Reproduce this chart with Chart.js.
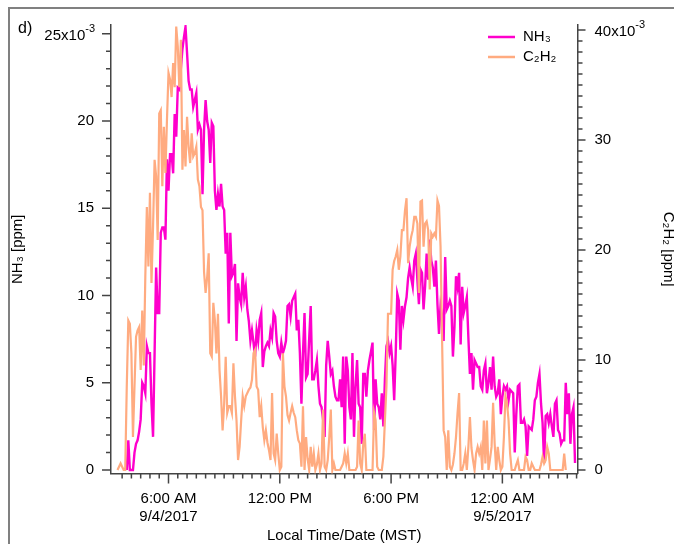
<!DOCTYPE html>
<html>
<head>
<meta charset="utf-8">
<title>NH3 / C2H2</title>
<script src="https://cdn.jsdelivr.net/npm/chart.js@4.4.0/dist/chart.umd.min.js"></script>
<style>
  html, body { margin: 0; padding: 0; background: #fff; overflow: hidden; }
  #frame { position: absolute; left: 8px; top: 7px; width: 700px; height: 600px;
           border-left: 2px solid #808080; border-top: 2px solid #808080; }
  #wrap { position: absolute; left: 0; top: 0; width: 674px; height: 544px; }
</style>
</head>
<body>
<div id="frame"></div>
<div id="wrap"><canvas id="chart"></canvas></div>
<script>
// minutes after midnight 9/4/2017 (MST), 5 min apart
const minutes = [
  195, 200, 205, 210, 215, 220, 225, 230, 235, 240, 245, 250, 255, 260, 265, 270, 275, 280, 285, 290,
  295, 300, 305, 310, 315, 320, 325, 330, 335, 340, 345, 350, 355, 360, 365, 370, 375, 380, 385, 390,
  395, 400, 405, 410, 415, 420, 425, 430, 435, 440, 445, 450, 455, 460, 465, 470, 475, 480, 485, 490,
  495, 500, 505, 510, 515, 520, 525, 530, 535, 540, 545, 550, 555, 560, 565, 570, 575, 580, 585, 590,
  595, 600, 605, 610, 615, 620, 625, 630, 635, 640, 645, 650, 655, 660, 665, 670, 675, 680, 685, 690,
  695, 700, 705, 710, 715, 720, 725, 730, 735, 740, 745, 750, 755, 760, 765, 770, 775, 780, 785, 790,
  795, 800, 805, 810, 815, 820, 825, 830, 835, 840, 845, 850, 855, 860, 865, 870, 875, 880, 885, 890,
  895, 900, 905, 910, 915, 920, 925, 930, 935, 940, 945, 950, 955, 960, 965, 970, 975, 980, 985, 990,
  995, 1000, 1005, 1010, 1015, 1020, 1025, 1030, 1035, 1040, 1045, 1050, 1055, 1060, 1065, 1070, 1075, 1080, 1085, 1090,
  1095, 1100, 1105, 1110, 1115, 1120, 1125, 1130, 1135, 1140, 1145, 1150, 1155, 1160, 1165, 1170, 1175, 1180, 1185, 1190,
  1195, 1200, 1205, 1210, 1215, 1220, 1225, 1230, 1235, 1240, 1245, 1250, 1255, 1260, 1265, 1270, 1275, 1280, 1285, 1290,
  1295, 1300, 1305, 1310, 1315, 1320, 1325, 1330, 1335, 1340, 1345, 1350, 1355, 1360, 1365, 1370, 1375, 1380, 1385, 1390,
  1395, 1400, 1405, 1410, 1415, 1420, 1425, 1430, 1435, 1440, 1445, 1450, 1455, 1460, 1465, 1470, 1475, 1480, 1485, 1490,
  1495, 1500, 1505, 1510, 1515, 1520, 1525, 1530, 1535, 1540, 1545, 1550, 1555, 1560, 1565, 1570, 1575, 1580, 1585, 1590,
  1595, 1600, 1605, 1610, 1615, 1620, 1625, 1630, 1635, 1640, 1645, 1650, 1655, 1660, 1665, 1670, 1675
];

// NH3 in ppm x10^-3 (left axis)
const nh3 = [
  null, null, null, null, null, null, 0, 1.7, 0, 0,
  0, 1.0, 1.5, 1.7, 2.2, 2.9, 5.0, 4.8, 4.4, 7.1,
  6.7, 6.7, 3.8, 1.9, 6.7, 11.6, 9.0, 9.0, 13.6, 13.9,
  13.9, 13.2, 17.8, 16.0, 18.1, 18.1, 17.0, 20.4, 19.1, 21.9,
  21.8, 23.0, 24.1, 24.8, 25.4, 23.9, 22.3, 21.8, 21.8, 20.8,
  21.2, 21.6, 19.5, 19.8, 19.5, 15.8, 19.5, 21.2, 20.0, 19.5,
  17.6, 19.9, 19.7, 16.0, 14.9, 15.8, 15.1, 16.4, 15.1, 14.9,
  12.4, 13.6, 8.4, 13.6, 11.1, 11.3, 11.8, 7.4, 10.7, 9.9,
  9.5, 11.3, 9.9, 10.5, 9.2, 8.5, 7.4, 8.0, 7.3, 6.5,
  8.0, 7.4, 8.6, 9.0, 5.9, 6.8, 7.1, 7.3, 7.1, 8.0,
  7.6, 9.0, 8.8, 7.4, 6.7, 6.5, 7.3, 6.7, 7.0, 7.4,
  9.4, 9.5, 8.8, 9.7, 9.9, 10.1, 8.0, 8.6, 6.7, 3.8,
  6.7, 9.0, 5.3, 5.5, 7.5, 9.4, 5.2, 5.2, 5.7, 6.3,
  4.8, 3.8, 3.6, 2.9, 1.9, 6.0, 7.4, 6.5, 5.5, 5.7,
  4.8, 4.2, 4.0, 4.0, 5.2, 3.6, 6.5, 1.5, 6.5, 5.7,
  3.6, 2.9, 6.7, 1.9, 4.8, 6.3, 3.8, 3.6, 1.5, 5.5,
  5.5, 4.2, 5.7, 6.3, 6.8, 7.3, 2.3, 5.2, 3.8, 3.6,
  2.9, 4.4, 2.5, 5.2, 7.1, 7.4, 6.7, 7.1, 6.0, 4.0,
  6.7, 10.1, 9.7, 6.9, 9.4, 8.6, 9.4, 9.9, 11.0, 11.6,
  11.0, 10.5, 12.0, 12.4, 10.9, 9.5, 11.5, 11.3, 9.2, 10.5,
  12.4, 10.9, 13.2, 12.0, 11.6, 10.5, 12.0, 9.5, 7.8, 9.4,
  8.8, 7.4, 12.2, 9.2, 9.4, 9.7, 9.4, 6.5, 8.2, 11.1,
  10.5, 11.3, 7.2, 10.5, 9.0, 9.4, 9.9, 7.6, 5.5, 6.7,
  4.6, 6.3, 6.1, 5.9, 5.9, 4.8, 4.6, 5.7, 6.1, 4.4,
  5.0, 5.9, 4.6, 6.5, 4.8, 4.2, 4.4, 5.2, 3.2, 4.2,
  4.8, 4.6, 4.8, 4.0, 4.6, 4.5, 4.4, 1.0, 3.2, 4.8,
  4.9, 2.7, 2.7, 2.9, 2.5, 0.8, 2.5, 2.4, 2.3, 2.9,
  4.0, 4.2, 5.0, 5.5, 3.8, 2.7, 0.4, 3.1, 3.2, 2.7,
  3.2, 2.5, 1.9, 3.8, 4.0, 2.3, 2.1, 1.5, 1.7, 1.7,
  5.0, 3.2, 4.4, 1.5, 3.2, 3.6, 0.4
];

// C2H2 in ppm x10^-3 (right axis)
const c2h2 = [
  0, 0.3, 0.6, 0.3, 0, 0, 7.6, 13.6, 13.3, 10.6,
  3.0, 7.6, 12.1, 12.7, 13.0, 9.1, 14.5, 9.5, 17.6, 23.9,
  18.5, 25.2, 17.0, 22.1, 28.2, 26.7, 20.9, 32.4, 32.7, 25.8,
  31.2, 27.0, 31.8, 36.1, 35.5, 33.9, 37.0, 34.8, 40.3, 38.5,
  34.8, 39.1, 27.3, 30.9, 27.6, 32.1, 29.4, 27.9, 30.6, 28.5,
  28.8, 29.4, 26.4, 25.8, 23.9, 23.6, 18.0, 16.1, 17.5, 19.7,
  10.6, 10.3, 15.2, 13.6, 10.6, 14.2, 9.1, 6.7, 3.6, 6.0,
  10.3, 5.2, 5.8, 5.8, 5.2, 9.7, 6.7, 4.5, 0.9, 2.1,
  4.5, 6.7, 5.8, 6.7, 7.0, 7.3, 7.5, 8.2, 10.6, 10.9,
  7.6, 7.3, 4.8, 5.8, 3.9, 2.7, 3.6, 2.5, 1.8, 0.9,
  7.0, 1.5, 0.9, 3.3, 1.5, 0, 0.3, 10.6, 7.6, 6.7,
  5.0, 4.5, 5.2, 5.8, 5.2, 4.8, 3.6, 2.7, 2.4, 0.3,
  5.8, 0, 3.0, 1.0, 0, 2.1, 0.3, 1.5, 0, 0.5,
  1.5, 0, 0.6, 5.5, 0.3, 0, 0.9, 3.0, 5.5, 0,
  0.6, 0, 0, 0, 0, 0.3, 0.6, 1.5, 0.6, 1.5,
  0, 0, 0, 0, 0, 0.3, 4.5, 0.6, 0, 2.4,
  3.3, 0, 0, 0, 0, 0, 5.2, 4.5, 0.3, 0,
  0, 0, 1.2, 4.5, 7.6, 14.2, 14.2, 14.2, 18.2, 19.0,
  19.4, 20.0, 18.2, 19.4, 21.8, 21.8, 23.6, 24.7, 18.8, 20.3,
  21.2, 21.8, 23.0, 23.0, 22.4, 16.1, 24.4, 24.5, 20.3, 22.4,
  22.6, 21.8, 16.4, 21.5, 21.2, 21.5, 21.2, 24.5, 24.0, 20.3,
  11.8, 3.6, 3.0, 0, 3.6, 0.3, 0, 0.5, 1.5, 3.0,
  5.2, 7.0, 0, 0, 0.6, 1.5, 0, 2.1, 4.8, 2.0,
  0.9, 0, 1.5, 2.1, 1.5, 2.1, 0, 4.5, 0.6, 4.5,
  0, 1.0, 2.1, 6.1, 2.4, 0, 2.1, 0.9, 0, 0.3,
  3.0, 6.7, 6.1, 4.5, 1.5, 0, 0, 0, 0.5, 0.9,
  0, 0, 0, 0, 1.2, 0.9, 0, 0, 0.6, 0.3,
  0, 0, 0, 0, 0.5, 1.2, 0.6, 0.9, 2.1, 1.5,
  0, 0, 0, 0, 0, 0, 0, 0, 0, 1.5,
  0, null, null, null, null, null, null
];

// tick labels
const xTickLabels = {
  6: ['6:00 AM', '9/4/2017'],
  12: '12:00 PM',
  18: '6:00 PM',
  24: ['12:00 AM', '9/5/2017']
};
const nh3TickLabels = [0, 5, 10, 15, 20];
const c2h2TickLabels = [0, 10, 20, 30];
const nh3TopLabel = ['25x10', '-3'];
const c2h2TopLabel = ['40x10', '-3'];

const FONT = '"Liberation Sans", Arial, "DejaVu Sans", sans-serif';
Chart.defaults.font.family = FONT;
Chart.defaults.font.size = 15;
Chart.defaults.color = '#000';

function stepTicks(from, to, step, majorEvery) {
  const out = [];
  for (let v = from; v <= to + 1e-9; v += step) {
    const r = v / majorEvery;
    out.push({ value: +v.toFixed(3), major: Math.abs(r - Math.round(r)) < 1e-6 });
  }
  return out;
}

function drawExponent(ctx, parts, x, y, align) {
  ctx.font = '15px ' + FONT;
  const bw = ctx.measureText(parts[0]).width;
  ctx.font = '11px ' + FONT;
  const ew = ctx.measureText(parts[1]).width;
  const x0 = align === 'right' ? x - bw - ew : x;
  ctx.textAlign = 'left';
  ctx.textBaseline = 'middle';
  ctx.font = '15px ' + FONT;
  ctx.fillText(parts[0], x0, y + 2);
  ctx.font = '11px ' + FONT;
  ctx.fillText(parts[1], x0 + bw, y - 5);
}

// tick marks (major longer), exponent labels, panel letter, legend
const axisDecor = {
  id: 'axisDecor',
  afterDraw(chart) {
    const ctx = chart.ctx;
    const { x, y, y1 } = chart.scales;
    const area = chart.chartArea;
    ctx.save();
    ctx.strokeStyle = '#444';
    ctx.lineWidth = 1.5;
    ctx.beginPath();
    x.ticks.forEach(t => {
      const px = x.getPixelForValue(t.value);
      ctx.moveTo(px, x.top);
      ctx.lineTo(px, x.top + (t.major ? 10 : 5));
    });
    y.ticks.forEach(t => {
      const py = y.getPixelForValue(t.value);
      ctx.moveTo(y.right, py);
      ctx.lineTo(y.right - (t.major ? 9 : 5), py);
    });
    y1.ticks.forEach(t => {
      const py = y1.getPixelForValue(t.value);
      ctx.moveTo(y1.left, py);
      ctx.lineTo(y1.left + (t.major ? 8 : 5), py);
    });
    ctx.stroke();

    ctx.fillStyle = '#000';
    drawExponent(ctx, nh3TopLabel, y.right - 16, y.getPixelForValue(25), 'right');
    drawExponent(ctx, c2h2TopLabel, y1.left + 17, y1.getPixelForValue(40), 'left');

    ctx.font = '16px ' + FONT;
    ctx.textAlign = 'left';
    ctx.textBaseline = 'middle';
    ctx.fillText('d)', 18, 29);

    // legend
    chart.data.datasets.forEach((ds, i) => {
      const ly = area.top + 12 + i * 20;
      const lx = area.right - 89.5;
      ctx.strokeStyle = ds.borderColor;
      ctx.lineWidth = 2.5;
      ctx.beginPath();
      ctx.moveTo(lx, ly);
      ctx.lineTo(lx + 27, ly);
      ctx.stroke();
      ctx.font = '15px ' + FONT;
      ctx.fillStyle = '#000';
      ctx.fillText(ds.label, lx + 35, ly);
    });
    ctx.restore();
  }
};

const toPoints = vals => minutes.map((m, i) => ({ x: m / 60, y: vals[i] }));

new Chart(document.getElementById('chart'), {
  type: 'line',
  data: {
    datasets: [
      {
        label: 'NH₃', data: toPoints(nh3), yAxisID: 'y',
        borderColor: '#ff00cc', borderWidth: 2.4, pointRadius: 0, tension: 0, order: 1
      },
      {
        label: 'C₂H₂', data: toPoints(c2h2), yAxisID: 'y1',
        borderColor: '#ffab80', borderWidth: 2.2, pointRadius: 0, tension: 0, order: 0
      }
    ]
  },
  options: {
    responsive: true,
    maintainAspectRatio: false,
    animation: false,
    layout: { padding: { top: 25, left: 0, right: 0, bottom: 0 } },
    plugins: { legend: { display: false }, tooltip: { enabled: false } },
    scales: {
      x: {
        type: 'linear', min: 2.9, max: 28.05,
        afterBuildTicks: s => { s.ticks = stepTicks(3.5, 28, 0.5, 6); },
        afterFit: s => { s.height = 70.5; },
        grid: { display: false, drawTicks: true, tickLength: 10 },
        border: { display: true, color: '#444', width: 1.5 },
        ticks: {
          autoSkip: false, maxRotation: 0, padding: 6,
          callback: v => xTickLabels[v] || ''
        },
        title: {
          display: true, text: 'Local Time/Date (MST)',
          padding: { top: 0, bottom: 0 }, font: { size: 15, lineHeight: '16px' }
        }
      },
      y: {
        position: 'left', min: -0.2, max: 25.5,
        afterBuildTicks: s => { s.ticks = stepTicks(0, 25, 1, 5); },
        afterFit: s => { s.width = 111; },
        grid: { display: false, drawTicks: true, tickLength: 10 },
        border: { display: true, color: '#444', width: 1.5 },
        ticks: {
          autoSkip: false, padding: 7,
          callback: v => nh3TickLabels.includes(v) ? String(v) : ''
        },
        title: {
          display: true, text: 'NH₃ [ppm]',
          padding: { top: 9, bottom: 0 }, font: { size: 15, lineHeight: '18px' }
        }
      },
      y1: {
        position: 'right', min: -0.32, max: 40.45,
        afterBuildTicks: s => { s.ticks = stepTicks(0, 40, 1, 10); },
        afterFit: s => { s.width = 96.5; },
        grid: { display: false, drawTicks: true, tickLength: 10 },
        border: { display: true, color: '#444', width: 1.5 },
        ticks: {
          autoSkip: false, padding: 7,
          callback: v => c2h2TickLabels.includes(v) ? String(v) : ''
        },
        title: {
          display: true, text: 'C₂H₂ [ppm]',
          padding: { top: 0, bottom: 0 }, font: { size: 15, lineHeight: '12px' }
        }
      }
    }
  },
  plugins: [axisDecor]
});
</script>
</body>
</html>
